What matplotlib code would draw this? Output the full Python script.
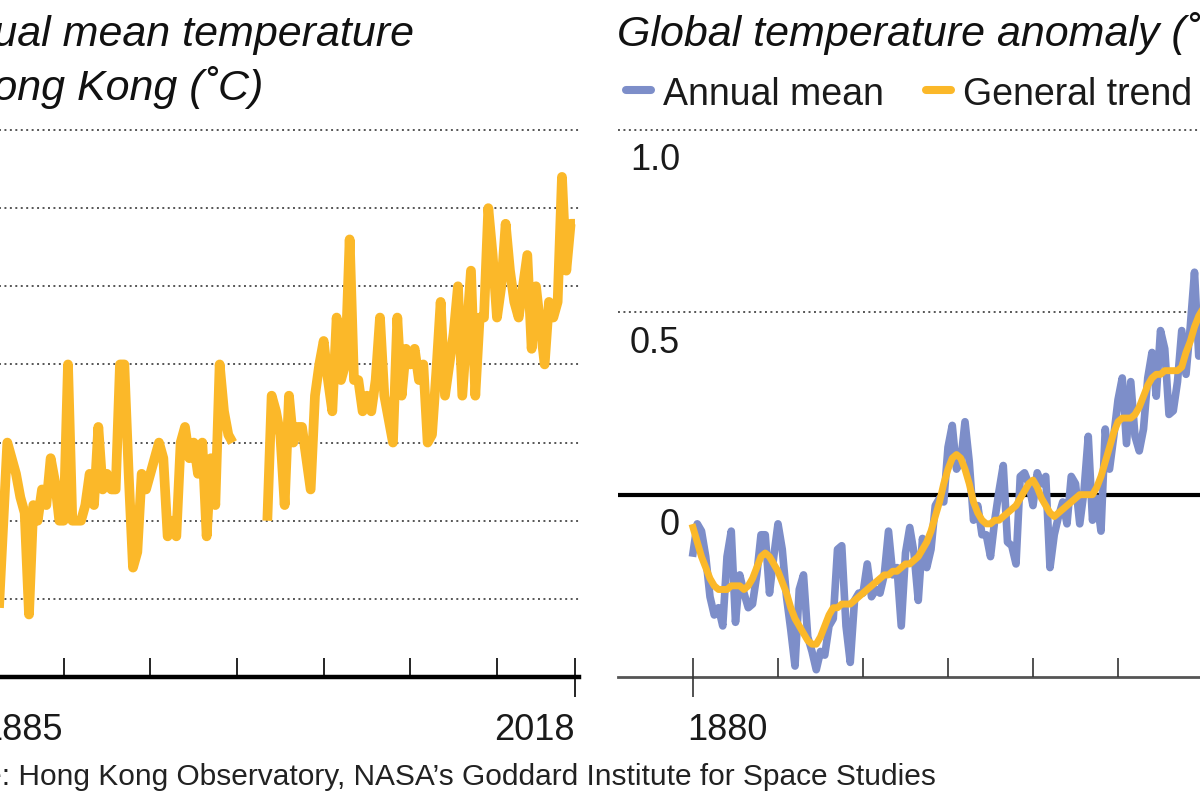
import numpy as np
import matplotlib
matplotlib.use('Agg')
import matplotlib.pyplot as plt
from matplotlib import transforms
from matplotlib.lines import Line2D

plt.rcParams['font.family'] = ['Liberation Sans', 'DejaVu Sans']

# Hong Kong Observatory annual mean temperature (deg C); no record 1940-1946
hk_years = list(range(1885, 2019))
hk_temp = [
    21.4, 21.95, 22.5, 22.4, 22.3, 22.15, 22.05, 21.4, 22.1, 22.0,      # 1885-1894
    22.2, 22.1, 22.4, 22.25, 22.0, 22.0, 23.0, 22.0, 22.0, 22.0,        # 1895-1904
    22.1, 22.3, 22.1, 22.6, 22.2, 22.3, 22.2, 22.2, 23.0, 23.0,         # 1905-1914
    22.3, 21.7, 21.8, 22.3, 22.2, 22.3, 22.4, 22.5, 22.4, 21.9,         # 1915-1924
    22.0, 21.9, 22.5, 22.6, 22.4, 22.5, 22.3, 22.5, 21.9, 22.4,         # 1925-1934
    22.1, 23.0, 22.7, 22.55, 22.5,                                      # 1935-1939
    None, None, None, None, None, None, None,                           # 1940-1946
    22.0, 22.8, 22.7, 22.55, 22.1, 22.8, 22.5, 22.6, 22.6, 22.4,        # 1947-1956
    22.2, 22.8, 23.0, 23.15, 22.9, 22.7, 23.3, 22.9, 23.0, 23.8,        # 1957-1966
    22.9, 22.9, 22.7, 22.8, 22.7, 22.9, 23.3, 22.8, 22.65, 22.5,        # 1967-1976
    23.3, 22.8, 23.1, 23.0, 23.1, 22.9, 23.0, 22.5, 22.55, 22.95,       # 1977-1986
    23.4, 22.8, 23.0, 23.2, 23.5, 22.8, 23.2, 23.6, 22.8, 23.3,         # 1987-1996
    23.3, 24.0, 23.7, 23.3, 23.5, 23.9, 23.6, 23.4, 23.3, 23.5,         # 1997-2006
    23.7, 23.1, 23.5, 23.25, 23.0, 23.4, 23.3, 23.4, 24.2, 23.6,        # 2007-2016
    23.9, 23.9,                                                         # 2017-2018
]
hk_grid = [21.5, 22.0, 22.5, 23.0, 23.5, 24.0, 24.5]
hk_ticks = [1900, 1920, 1940, 1960, 1980, 2000]

# Global temperature anomaly (deg C), visible part of the panel
gl_years = list(range(1880, 2002))
gl_annual = [
    -0.16, -0.08, -0.10, -0.17, -0.28, -0.33, -0.31, -0.36, -0.17, -0.10,   # 1880s
    -0.35, -0.22, -0.27, -0.31, -0.30, -0.22, -0.11, -0.11, -0.27, -0.17,   # 1890s
    -0.08, -0.15, -0.28, -0.37, -0.47, -0.26, -0.22, -0.39, -0.43, -0.48,   # 1900s
    -0.43, -0.44, -0.36, -0.34, -0.15, -0.14, -0.36, -0.46, -0.29, -0.27,   # 1910s
    -0.27, -0.19, -0.28, -0.26, -0.27, -0.22, -0.10, -0.22, -0.20, -0.36,   # 1920s
    -0.16, -0.09, -0.16, -0.29, -0.12, -0.20, -0.15, -0.03, -0.01, -0.02,   # 1930s
    0.13, 0.19, 0.07, 0.09, 0.20, 0.09, -0.07, -0.03, -0.11, -0.11,         # 1940s
    -0.17, -0.07, 0.01, 0.08, -0.13, -0.14, -0.19, 0.05, 0.06, 0.03,        # 1950s
    -0.03, 0.06, 0.03, 0.05, -0.20, -0.11, -0.06, -0.02, -0.08, 0.05,       # 1960s
    0.03, -0.08, 0.01, 0.16, -0.07, -0.01, -0.10, 0.18, 0.07, 0.16,         # 1970s
    0.26, 0.32, 0.14, 0.31, 0.16, 0.12, 0.18, 0.32, 0.39, 0.27,             # 1980s
    0.45, 0.40, 0.22, 0.23, 0.31, 0.45, 0.33, 0.46, 0.61, 0.38,             # 1990s
    0.39, 0.54,                                                             # 2000-2001
]
gl_trend = [
    -0.09, -0.13, -0.17, -0.20, -0.23, -0.25, -0.26, -0.26, -0.26, -0.25,   # 1880s
    -0.25, -0.25, -0.26, -0.25, -0.23, -0.20, -0.17, -0.16, -0.17, -0.19,   # 1890s
    -0.21, -0.24, -0.27, -0.31, -0.34, -0.36, -0.38, -0.40, -0.41, -0.41,   # 1900s
    -0.39, -0.36, -0.33, -0.31, -0.31, -0.30, -0.30, -0.30, -0.29, -0.28,   # 1910s
    -0.27, -0.26, -0.25, -0.24, -0.23, -0.22, -0.22, -0.21, -0.21, -0.20,   # 1920s
    -0.19, -0.19, -0.18, -0.17, -0.15, -0.13, -0.10, -0.06, -0.02, 0.03,    # 1930s
    0.07, 0.10, 0.11, 0.10, 0.07, 0.03, -0.02, -0.05, -0.07, -0.08,         # 1940s
    -0.08, -0.07, -0.07, -0.06, -0.05, -0.04, -0.03, -0.01, 0.01, 0.03,     # 1950s
    0.04, 0.02, -0.01, -0.03, -0.05, -0.06, -0.05, -0.04, -0.03, -0.02,     # 1960s
    -0.01, 0.00, 0.00, 0.00, 0.00, 0.02, 0.05, 0.09, 0.13, 0.17,            # 1970s
    0.20, 0.21, 0.21, 0.21, 0.22, 0.24, 0.27, 0.30, 0.32, 0.33,             # 1980s
    0.33, 0.34, 0.34, 0.34, 0.34, 0.35, 0.39, 0.42, 0.46, 0.49,             # 1990s
    0.51, 0.53,                                                             # 2000-2001
]
gl_grid = [0.5, 1.0]
gl_labels = ['0', '0.5', '1.0']
gl_ticks = [1900, 1920, 1940, 1960, 1980, 2000]

YELLOW = '#fbb829'
BLUE = '#7d8ec9'
TEXT = '#1a1a1a'
DOTS = dict(linestyle=(0, (1, 1.8)), linewidth=1.4, color='#555555', zorder=1)

W, H = 1200, 800
fig = plt.figure(figsize=(12, 8), dpi=100)


def fx(px):
    return px / W


def fy(py):
    return 1 - py / H


def ftext(px, py, s, **kw):
    fig.text(fx(px), fy(py), s, va='baseline', **kw)


# ---- left panel: Hong Kong ----
ax1 = fig.add_axes([fx(-23), fy(677), (579.3 + 23) / W, 547 / H])
ax1.set_xlim(1880, 2019)
ax1.set_ylim(21.0, 24.5)
ax1.set_axis_off()
for v in hk_grid:
    ax1.axhline(v, clip_on=False, **DOTS)
ax1.axhline(21.0, color='black', lw=3.2, clip_on=False, zorder=2)
temp = np.array(hk_temp, dtype=float)
ax1.plot(hk_years, temp, color=YELLOW, lw=7, solid_joinstyle='round',
         solid_capstyle='butt', zorder=3)
tick_h = 19 / 547
tr1 = ax1.get_xaxis_transform()
ax1.vlines(hk_ticks, 0, tick_h, transform=tr1, color='black', lw=1.2, clip_on=False)
ax1.vlines([2018], -0.037, tick_h, transform=tr1, color='black', lw=1.2, clip_on=False)

# ---- right panel: global ----
ax2 = fig.add_axes([fx(618), fy(677), (1288 - 618) / W, 547 / H])
ax2.set_xlim(1880 - 75 / 4.25, 2020)
ax2.set_ylim(-0.5, 1.0)
ax2.set_axis_off()
for v in gl_grid:
    ax2.axhline(v, clip_on=False, **DOTS)
ax2.axhline(0, color='black', lw=3.0, zorder=2)
ax2.axhline(-0.5, color='#555555', lw=2.0, clip_on=False, zorder=2)
ax2.plot(gl_years, gl_annual, color=BLUE, lw=5.5, solid_joinstyle='round', zorder=3)
ax2.plot(gl_years, gl_trend, color=YELLOW, lw=5.0, solid_joinstyle='round', zorder=4)
tr2 = ax2.get_xaxis_transform()
ax2.vlines(gl_ticks, 0, tick_h, transform=tr2, color='#333333', lw=1.2, clip_on=False)
ax2.vlines([1880], -0.037, tick_h, transform=tr2, color='#333333', lw=1.2, clip_on=False)

lab_tr = transforms.offset_copy(ax2.transData, fig, x=-13, y=-31, units='dots')
for v, s in zip([0, 0.5, 1.0], gl_labels):
    ax2.text(1880, v, s, transform=lab_tr, ha='right', va='center',
             fontsize=26, color=TEXT)

# ---- titles, legend, axis years, source ----
ftext(-83, 46, 'Annual mean temperature', fontsize=31, style='italic', color='#111111')
ftext(-83, 100, 'in Hong Kong (˚C)', fontsize=31, style='italic', color='#111111')
ftext(617, 46, 'Global temperature anomaly (˚C)', fontsize=31, style='italic', color='#111111')

fig.add_artist(Line2D([fx(626), fx(651)], [fy(90), fy(90)], color=BLUE, lw=5.8,
                      solid_capstyle='round', transform=fig.transFigure))
ftext(663, 105, 'Annual mean', fontsize=27, color=TEXT)
fig.add_artist(Line2D([fx(926), fx(951)], [fy(90), fy(90)], color=YELLOW, lw=5.8,
                      solid_capstyle='round', transform=fig.transFigure))
ftext(963, 105, 'General trend', fontsize=27, color=TEXT)

ftext(-18, 740, '1885', fontsize=26, color=TEXT)
ftext(575, 740, '2018', fontsize=26, color=TEXT, ha='right')
ftext(687, 740, '1880', fontsize=26, color=TEXT)

ftext(-93, 785, 'Source: Hong Kong Observatory, NASA’s Goddard Institute for Space Studies',
      fontsize=21.5, color='#222222')

fig.savefig('out.png', dpi=100)
